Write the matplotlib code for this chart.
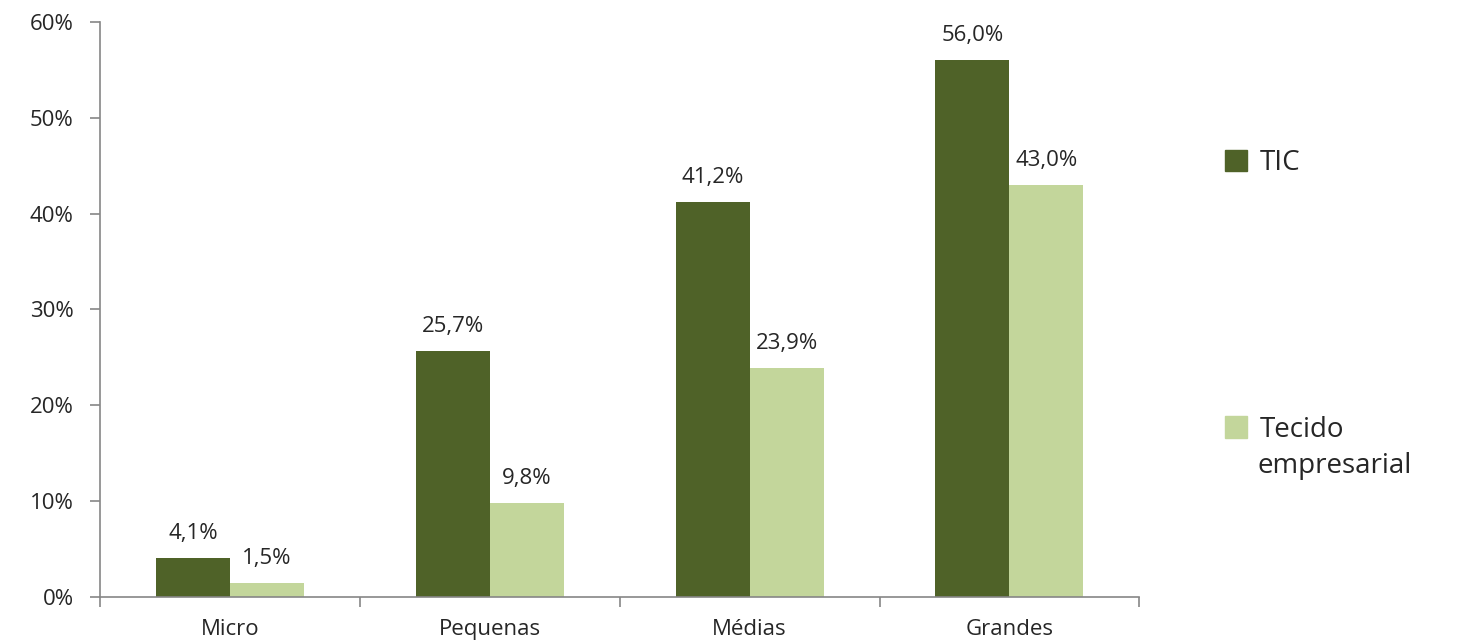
import matplotlib.pyplot as plt
from matplotlib.patches import Patch
import numpy as np

categories = ["Micro", "Pequenas", "Médias", "Grandes"]
tic = [4.1, 25.7, 41.2, 56.0]
tecido = [1.5, 9.8, 23.9, 43.0]
y_ticks = [0, 10, 20, 30, 40, 50, 60]

dark = "#4F6228"
light = "#C3D69B"
grey = "#868686"
txt = "#262626"

plt.rcParams['font.family'] = ['Open Sans', 'DejaVu Sans']

fig = plt.figure(figsize=(14.72, 6.44), dpi=100)
ax = fig.add_axes([0.068, 0.073, 0.706, 0.893])

x = np.arange(len(categories))
w = 0.285
b1 = ax.bar(x - w / 2, tic, w, color=dark)
b2 = ax.bar(x + w / 2, tecido, w, color=light)

# value labels
for bars, vals in [(b1, tic), (b2, tecido)]:
    for bar, v in zip(bars, vals):
        ax.annotate(f"{v:.1f}%".replace(".", ","),
                    (bar.get_x() + bar.get_width() / 2, v),
                    xytext=(0, 10), textcoords="offset points",
                    ha="center", va="bottom", fontsize=16, color=txt)

ax.set_xlim(-0.5, 3.5)
ax.set_ylim(0, 60)
ax.set_yticks(y_ticks)
ax.set_yticklabels([f"{t}%" for t in y_ticks])

# category ticks on boundaries, labels centred
ax.set_xticks(np.arange(-0.5, 4, 1))
ax.set_xticklabels([])
ax.set_xticks(x, minor=True)
ax.set_xticklabels(categories, minor=True)
ax.tick_params(axis="x", which="minor", length=0, pad=16, labelsize=16, labelcolor=txt)
ax.tick_params(axis="x", which="major", length=7, color=grey, width=1.2)
ax.tick_params(axis="y", length=7, color=grey, width=1.2, labelsize=16, labelcolor=txt, pad=12)

for s in ["top", "right"]:
    ax.spines[s].set_visible(False)
for s in ["left", "bottom"]:
    ax.spines[s].set_color(grey)
    ax.spines[s].set_linewidth(1.2)

leg_kw = dict(loc="center left", frameon=False, fontsize=20, borderpad=0, borderaxespad=0,
              handlelength=0.8, handleheight=0.8, handletextpad=0.45, labelcolor=txt)
fig.legend(handles=[Patch(color=dark, label="TIC")], bbox_to_anchor=(0.832, 0.747), **leg_kw)
fig.legend(handles=[Patch(color=light, label="Tecido")], bbox_to_anchor=(0.832, 0.333), **leg_kw)
fig.text(0.8546, 0.276, "empresarial", fontsize=20, color=txt, va="center", ha="left")

fig.savefig("out.png", dpi=100)
